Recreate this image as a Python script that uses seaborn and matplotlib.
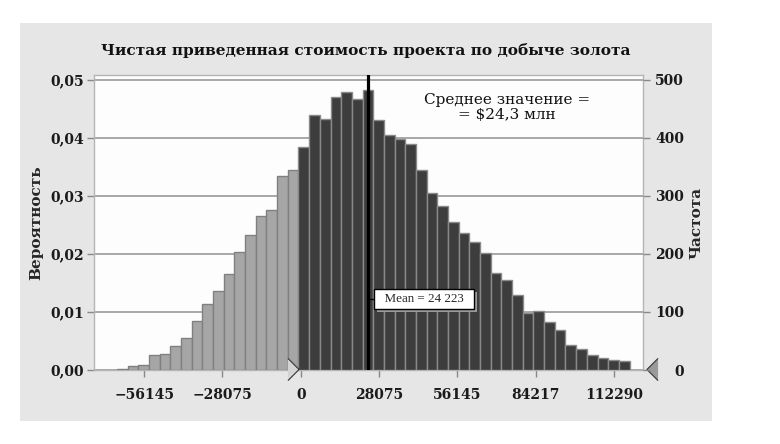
import numpy as np
import pandas as pd
import seaborn as sns
import matplotlib.pyplot as plt
import matplotlib.patheffects as pe

# Data: simulated NPV of a gold mining project
bin_start = -65900          # left edge of the first bin
bin_width = 3829            # width of one bin
counts = [2, 7, 9, 26, 28, 42, 55, 85, 113, 137, 166, 203, 233, 266, 275, 334, 344,
          384, 440, 432, 470, 479, 468, 482, 431, 405, 398, 389, 344, 305, 283, 256,
          236, 220, 201, 167, 156, 129, 98, 102, 83, 69, 43, 36, 26, 21, 18, 16]
n_light = 17                # bins left of the 0 slider
n_trials = 10000
mean_npv = 24223
x_ticks = [-56145, -28075, 0, 28075, 56145, 84217, 112290]
y_ticks = [0, 100, 200, 300, 400, 500]

edges = bin_start + bin_width * np.arange(len(counts) + 1)
centers = (edges[:-1] + edges[1:]) / 2
df = pd.DataFrame({"npv": centers, "count": counts})
df["zone"] = ["low"] * n_light + ["high"] * (len(counts) - n_light)

sns.set_theme(style="white")
plt.rcParams['font.family'] = ['DejaVu Serif']

fig = plt.figure(figsize=(7.8, 4.44), dpi=100)
fig.patch.set_facecolor("white")
# grey panel behind the chart
fig.patches.append(plt.Rectangle((20 / 780, 1 - 421 / 444), 692 / 780, 398 / 444,
                                 transform=fig.transFigure, facecolor="#e6e6e6",
                                 edgecolor="none", zorder=-10))
ax = fig.add_axes([94 / 780, 74 / 444, 549 / 780, 295 / 444])
ax.set_facecolor("#fdfdfd")

low = df[df["zone"] == "low"]
high = df[df["zone"] == "high"]
sns.histplot(data=low, x="npv", weights="count", bins=list(edges[:n_light + 1]),
             color="#a6a6a6", edgecolor="#808080", linewidth=1, alpha=1, ax=ax, zorder=3)
sns.histplot(data=high, x="npv", weights="count", bins=list(edges[n_light:]),
             color="#3d3d3d", edgecolor="#8a8a8a", linewidth=1, alpha=1, ax=ax, zorder=3)

ax.set_xlim(-74100, 122700)
ax.set_ylim(0, 508.6)
for y in y_ticks:
    ax.axhline(y, color="#a0a0a0", lw=1.3, zorder=1)

ax.set_xticks(x_ticks)
ax.set_xticklabels([f"{t}".replace("-", "\u2212") for t in x_ticks],
                   fontsize=10, fontweight="bold", color="#1a1a1a")
ax.set_yticks(y_ticks)
ax.set_yticklabels([f"{y / n_trials:.2f}".replace(".", ",") for y in y_ticks],
                   fontsize=10, fontweight="bold", color="#1a1a1a")
ax.tick_params(axis="both", length=5, width=1, color="#888888",
               bottom=True, left=True)
ax.tick_params(axis="x", pad=8)
ax.tick_params(axis="y", pad=2)
ax.set_xlabel("")
ax.set_ylabel("Вероятность", fontsize=11, fontweight="bold", labelpad=5)
for s in ax.spines.values():
    s.set_color("#b5b5b5")
    s.set_linewidth(1)

ax2 = ax.twinx()
ax2.set_ylim(ax.get_ylim())
ax2.set_yticks(y_ticks)
ax2.set_yticklabels([str(y) for y in y_ticks], fontsize=10, fontweight="bold",
                    color="#1a1a1a", ha="right")
ax2.tick_params(axis="y", length=5, width=1, color="#888888", pad=24.5, right=True)
ax2.set_ylabel("Частота", fontsize=11, fontweight="bold", rotation=90, labelpad=4)
ax2.yaxis.set_label_position("right")
for s in ax2.spines.values():
    s.set_visible(False)

# mean line and its label
ax.axvline(mean_npv, color="black", lw=2.3, zorder=5)
ax.plot([mean_npv, 27500], [122, 122], color="black", lw=1, zorder=5)
label = f"  Mean = {mean_npv // 1000} {mean_npv % 1000}  "
t = ax.text(27600, 122, label, fontsize=9.4, family="Liberation Serif",
            va="center", ha="left", zorder=6,
            bbox=dict(boxstyle="square,pad=0.3", facecolor="white", edgecolor="black", lw=1))
t.get_bbox_patch().set_path_effects([
    pe.SimplePatchShadow(offset=(2, -2), shadow_rgbFace="#9a9a9a", alpha=1),
    pe.Normal()])

ax.text(74000, 452, "Среднее значение =\n= $24,3 млн", fontsize=11, ha="center",
        va="center", linespacing=1.1, color="#111111", zorder=6)

# slider markers
tri_r = [(-0.5, 1), (0.5, 0), (-0.5, -1)]
tri_l = [(0.5, 1), (-0.5, 0), (0.5, -1)]
ax.plot([-2700], [2], marker=tri_r, markersize=16, markerfacecolor="#d4d4d4",
        markeredgecolor="#333333", markeredgewidth=0.8, clip_on=False, zorder=7)
ax.plot([125800], [2], marker=tri_l, markersize=16, markerfacecolor="#9a9a9a",
        markeredgecolor="#333333", markeredgewidth=0.8, clip_on=False, zorder=7)

fig.text(366 / 780, 1 - 50 / 444, "Чистая приведенная стоимость проекта по добыче золота",
         ha="center", va="center", fontsize=11.1, fontweight="bold", color="#111111")

fig.savefig("out.png", dpi=100)
